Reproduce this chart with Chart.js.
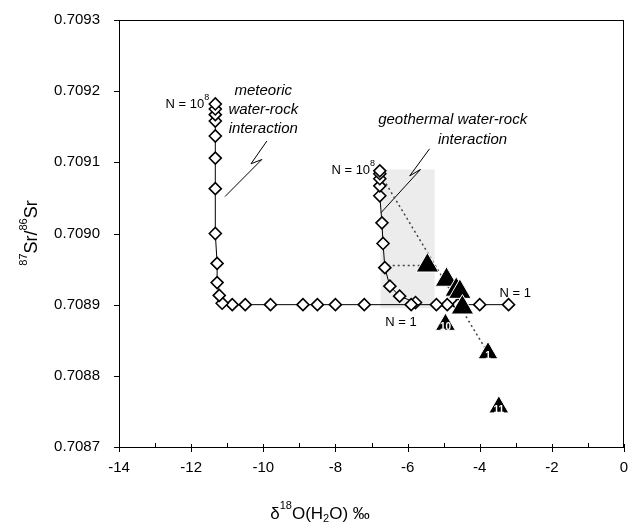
<!DOCTYPE html>
<html>
<head>
<meta charset="utf-8">
<script src="https://cdn.jsdelivr.net/npm/chart.js@4.4.0/dist/chart.umd.min.js"></script>
<style>
  html, body { margin: 0; padding: 0; background: #fff; overflow: hidden; }
  canvas { display: block; }
</style>
</head>
<body>
<canvas id="chart" width="638" height="532"></canvas>
<script>
// meteoric water-rock mixing curve, from N = 1 (right end) to N = 10^8 (top)
const meteoricX = [-3.2, -4.0, -4.6, -4.9, -5.2, -5.9, -7.2, -8.0, -8.5, -8.9, -9.8, -10.5, -10.86,
  -11.14, -11.22, -11.28, -11.28, -11.33, -11.33, -11.33, -11.33, -11.33, -11.33, -11.33, -11.33];
const meteoricY = [0.70890, 0.70890, 0.70890, 0.70890, 0.70890, 0.70890, 0.70890, 0.70890, 0.70890,
  0.70890, 0.70890, 0.70890, 0.70890, 0.708902, 0.708913, 0.708931, 0.708958, 0.709000, 0.709063,
  0.709106, 0.709137, 0.709158, 0.709167, 0.709175, 0.709182];

// geothermal water-rock mixing curve, N = 1 to N = 10^8
const geoX = [-5.78, -6.22, -6.49, -6.63, -6.68, -6.71, -6.77, -6.77, -6.77, -6.77, -6.77];
const geoY = [0.708903, 0.708912, 0.708926, 0.708952, 0.708986, 0.709015, 0.709053, 0.709067,
  0.709077, 0.709084, 0.709088];

// measured waters (large triangles)
const wellX = [-5.45, -4.92, -4.65, -4.55, -4.48];
const wellY = [0.708955, 0.708935, 0.708921, 0.708918, 0.708896];

// numbered samples (small triangles)
const sampleX = [-4.95, -3.77, -3.47];
const sampleY = [0.708872, 0.708832, 0.708756];
const sampleLabels = ['10', '1', '11'];

// dotted mixing trends
const trendAX = [-6.55, -5.45];
const trendAY = [0.708955, 0.708955];
const trendBX = [-6.74, -3.77];
const trendBY = [0.709082, 0.708832];

// leader lines for the two annotations
const meteoricLeaderX = [-9.90, -10.34, -10.04, -11.06];
const meteoricLeaderY = [0.709130, 0.709098, 0.709104, 0.709052];
const geoLeaderX = [-5.39, -5.94, -5.64, -6.74];
const geoLeaderY = [0.709119, 0.709081, 0.709090, 0.709029];

// shaded field
const fieldX = [-6.75, -5.25];
const fieldY = [0.708895, 0.70909];

// axis ticks
const xTicks = [-14, -12, -10, -8, -6, -4, -2, 0];
const yTicks = [0.7087, 0.7088, 0.7089, 0.7090, 0.7091, 0.7092, 0.7093];

const FONT = '"Liberation Sans", Arial, sans-serif';

const pts = (xs, ys) => xs.map((x, i) => ({ x: x, y: ys[i] }));

const notes = [
  { text: 'meteoric', x: -10.0, y: 0.709200, italic: true, size: 15, align: 'center' },
  { text: 'water-rock', x: -10.0, y: 0.709174, italic: true, size: 15, align: 'center' },
  { text: 'interaction', x: -10.0, y: 0.709147, italic: true, size: 15, align: 'center' },
  { text: 'geothermal water-rock', x: -4.75, y: 0.709160, italic: true, size: 15, align: 'center' },
  { text: 'interaction', x: -4.2, y: 0.709132, italic: true, size: 15, align: 'center' },
  { text: 'N = 1', x: -3.45, y: 0.708916, size: 13, align: 'left' },
  { text: 'N = 1', x: -6.62, y: 0.708875, size: 13, align: 'left' }
];
const powerNotes = [
  { x: -11.50, y: 0.709181 },
  { x: -6.90, y: 0.709088 }
];

// draws a run of text pieces with their own size and vertical shift
function drawParts(ctx, parts, x, y, align) {
  let total = 0;
  parts.forEach(p => {
    ctx.font = (p.bold ? 'bold ' : '') + (p.italic ? 'italic ' : '') + p.size + 'px ' + FONT;
    p.w = ctx.measureText(p.t).width;
    total += p.w;
  });
  let cx = align === 'center' ? x - total / 2 : align === 'right' ? x - total : x;
  ctx.textAlign = 'left';
  ctx.textBaseline = 'middle';
  parts.forEach(p => {
    ctx.font = (p.bold ? 'bold ' : '') + (p.italic ? 'italic ' : '') + p.size + 'px ' + FONT;
    ctx.fillText(p.t, cx, y + (p.dy || 0));
    cx += p.w;
  });
}

const decorations = {
  id: 'decorations',
  beforeDatasetsDraw(chart) {
    const { ctx, scales: { x, y } } = chart;
    ctx.save();
    ctx.fillStyle = '#ececec';
    const x0 = x.getPixelForValue(fieldX[0]), x1 = x.getPixelForValue(fieldX[1]);
    const y0 = y.getPixelForValue(fieldY[1]), y1 = y.getPixelForValue(fieldY[0]);
    ctx.fillRect(x0, y0, x1 - x0, y1 - y0);
    ctx.restore();
  },
  afterDatasetsDraw(chart) {
    const { ctx, chartArea: a, scales: { x, y } } = chart;
    ctx.save();
    // frame
    ctx.strokeStyle = '#000';
    ctx.lineWidth = 1;
    ctx.strokeRect(a.left + 0.5, a.top + 0.5, a.right - a.left - 1, a.bottom - a.top);
    // tick marks
    ctx.beginPath();
    for (let v = -14; v <= 0; v++) {
      const p = Math.round(x.getPixelForValue(v)) + 0.5;
      if (v % 2 === 0) { ctx.moveTo(p, a.bottom - 3); ctx.lineTo(p, a.bottom + 5); }
      else { ctx.moveTo(p, a.bottom - 4); ctx.lineTo(p, a.bottom); }
    }
    yTicks.forEach(v => {
      const p = Math.round(y.getPixelForValue(v)) + 0.5;
      ctx.moveTo(a.left - 5, p); ctx.lineTo(a.left, p);
    });
    ctx.stroke();

    // numbers inside the small triangles
    ctx.fillStyle = '#fff';
    sampleLabels.forEach((t, i) => {
      drawParts(ctx, [{ t: t, size: 10, bold: true }],
        x.getPixelForValue(sampleX[i]), y.getPixelForValue(sampleY[i]) + 3, 'center');
    });

    ctx.fillStyle = '#000';
    // x tick labels
    xTicks.forEach(v => {
      drawParts(ctx, [{ t: String(v), size: 15 }], x.getPixelForValue(v), a.bottom + 21, 'center');
    });
    notes.forEach(n => {
      drawParts(ctx, [{ t: n.text, size: n.size, italic: n.italic }],
        x.getPixelForValue(n.x), y.getPixelForValue(n.y), n.align);
    });
    powerNotes.forEach(n => {
      drawParts(ctx, [{ t: 'N = 10', size: 13 }, { t: '8', size: 9, dy: -7 }],
        x.getPixelForValue(n.x), y.getPixelForValue(n.y), 'right');
    });

    // axis titles
    drawParts(ctx, [
      { t: 'δ', size: 17 }, { t: '18', size: 11, dy: -8 }, { t: 'O(H', size: 17 },
      { t: '2', size: 11, dy: 5 }, { t: 'O) ‰', size: 17 }
    ], 320, 514, 'center');
    ctx.translate(32, 233);
    ctx.rotate(-Math.PI / 2);
    drawParts(ctx, [
      { t: '87', size: 11, dy: -8 }, { t: 'Sr/', size: 18 }, { t: '86', size: 11, dy: -8 }, { t: 'Sr', size: 18 }
    ], 0, 0, 'center');
    ctx.restore();
  }
};

const line = (data, extra) => Object.assign({
  data: data, showLine: true, borderColor: '#000', borderWidth: 1, pointRadius: 0, fill: false
}, extra);

new Chart(document.getElementById('chart'), {
  type: 'scatter',
  data: {
    datasets: [
      { data: pts(wellX, wellY), pointStyle: 'triangle', pointRadius: 13, backgroundColor: '#000',
        borderColor: '#fff', borderWidth: 1, order: 0 },
      { data: pts(sampleX, sampleY), pointStyle: 'triangle', pointRadius: 11.5, backgroundColor: '#000',
        borderColor: '#fff', borderWidth: 1, order: 0 },
      line(pts(meteoricX, meteoricY), { pointRadius: 6, pointStyle: 'rectRot', pointBackgroundColor: '#fff',
        pointBorderColor: '#000', pointBorderWidth: 1.6, order: 2 }),
      line(pts(geoX, geoY), { pointRadius: 6, pointStyle: 'rectRot', pointBackgroundColor: '#fff',
        pointBorderColor: '#000', pointBorderWidth: 1.6, order: 2 }),
      line(pts(trendAX, trendAY), { borderColor: '#444', borderWidth: 1.5, borderDash: [2, 3], order: 3 }),
      line(pts(trendBX, trendBY), { borderColor: '#444', borderWidth: 1.5, borderDash: [2, 3], order: 3 }),
      line(pts(meteoricLeaderX, meteoricLeaderY), { order: 4 }),
      line(pts(geoLeaderX, geoLeaderY), { order: 4 })
    ]
  },
  options: {
    responsive: false,
    animation: false,
    layout: { padding: { top: 19, right: 8, left: 0, bottom: 0 } },
    plugins: { legend: { display: false }, tooltip: { enabled: false } },
    scales: {
      x: {
        type: 'linear', min: -14, max: 0,
        afterFit: s => { s.height = 85; },
        grid: { display: false }, border: { display: false },
        ticks: { display: false }
      },
      y: {
        type: 'linear', min: 0.7087, max: 0.7093,
        afterFit: s => { s.width = 119; },
        afterBuildTicks: s => { s.ticks = yTicks.map(v => ({ value: v })); },
        grid: { display: false }, border: { display: false },
        ticks: { color: '#000', font: { family: FONT, size: 15 }, padding: 11,
          callback: v => v.toFixed(4) }
      }
    }
  },
  plugins: [decorations]
});
</script>
</body>
</html>
